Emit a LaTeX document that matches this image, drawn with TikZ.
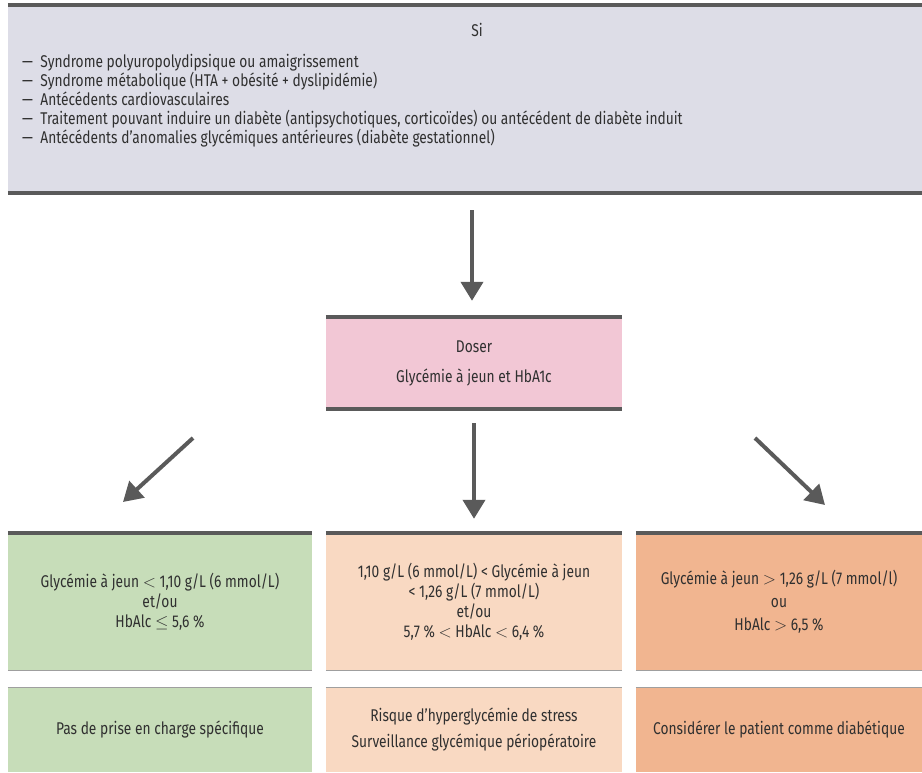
\documentclass[tikz,border=0pt]{standalone}
\usepackage{fontspec}
\setmainfont{Fira Sans}[FakeStretch=0.81]
\usepackage{xcolor}
\usetikzlibrary{arrows.meta, positioning, calc}
\definecolor{lavgray}{HTML}{DDDDE7}
\definecolor{rosebox}{HTML}{F2C7D5}
\definecolor{greenbox}{HTML}{C7DDB9}
\definecolor{peachbox}{HTML}{F9D9C2}
\definecolor{orangebox}{HTML}{F1B590}
\definecolor{rulegray}{HTML}{5A5A5A}
\definecolor{inkgray}{HTML}{303030}
\tikzset{
    box/.style={inner sep=0pt, align=center, text=inkgray,
        font=\fontsize{17}{20}\selectfont},
    thickrule/.style={line width=4pt, rulegray},
    thinrule/.style={line width=1.2pt, gray!75},
    flow/.style={-{Triangle[length=19pt,width=22pt]}, line width=4pt, rulegray}
}

\begin{document}
\begin{tikzpicture}[x=1pt, y=1pt]
    \useasboundingbox (0,0) rectangle (922,772);
    % Criteria box
    \node[box, fill=lavgray, minimum width=914, minimum height=188] (crit) at (465,673) {};
    \draw[thickrule] (crit.north west) -- (crit.north east);
    \draw[thickrule] (crit.south west) -- (crit.south east);
    \node[box] (si) at (477,742) {Si};
    \node[box, align=left, anchor=west, font=\fontsize{17}{19}\selectfont] (list) at (22,671) {%
        — \ Syndrome polyuropolydipsique ou amaigrissement\\
        — \ Syndrome métabolique (HTA + obésité + dyslipidémie)\\
        — \ Antécédents cardiovasculaires\\
        — \ Traitement pouvant induire un diabète (antipsychotiques, corticoïdes) ou antécédent de diabète induit\\
        — \ Antécédents d’anomalies glycémiques antérieures (diabète gestationnel)};
    % Dosage box
    \node[box, fill=rosebox, minimum width=296, minimum height=92] (dose) at (474,409) {Doser\\[10pt]Glycémie à jeun et HbA1c};
    \draw[thickrule] (dose.north west) -- (dose.north east);
    \draw[thickrule] (dose.south west) -- (dose.south east);
    % Results
    \node[box, fill=greenbox, minimum width=304, minimum height=137] (low) at (160,170.5)
        {Glycémie à jeun $<$ 1,10 g/L (6 mmol/L)\\ et/ou\\ HbAlc $\leq$ 5,6 \%};
    \node[box, fill=peachbox, minimum width=296, minimum height=137] (mid) at (474,170.5)
        {1,10 g/L (6 mmol/L) < Glycémie à jeun\\ < 1,26 g/L (7 mmol/L)\\ et/ou\\ 5,7 \% $<$ HbAlc $<$ 6,4 \%};
    \node[box, fill=orangebox, minimum width=286, minimum height=137] (high) at (779,170.5)
        {Glycémie à jeun $>$ 1,26 g/L (7 mmol/l)\\[3pt] ou\\[3pt] HbAlc $>$ 6,5 \%};
    % Actions
    \node[box, fill=greenbox, minimum width=304, minimum height=84] (lowact) at (160,42)
        {Pas de prise en charge spécifique};
    \node[box, fill=peachbox, minimum width=296, minimum height=84] (midact) at (474,42)
        {Risque d’hyperglycémie de stress\\[6pt] Surveillance glycémique périopératoire};
    \node[box, fill=orangebox, minimum width=286, minimum height=84] (highact) at (779,42)
        {Considérer le patient comme diabétique};
    \foreach \n in {low, mid, high} {
        \draw[thickrule] (\n.north west) -- (\n.north east);
        \draw[thinrule] (\n.south west) -- (\n.south east);
        \draw[thinrule] (\n act.north west) -- (\n act.north east);
    }
    % Arrows
    \draw[flow, shorten <=17pt, shorten >=16pt] ([xshift=-2pt]crit.south -| dose.north) -- ([xshift=-2pt]dose.north);
    \draw[flow, shorten <=14pt, shorten >=14pt] (dose.south) -- (mid.north);
    \coordinate (lstart) at (193,334);
    \coordinate (lend) at (123,270);
    \coordinate (rstart) at (755,334);
    \coordinate (rend) at (825,267);
    \draw[flow] (lstart) -- (lend);
    \draw[flow] (rstart) -- (rend);
\end{tikzpicture}
\end{document}
